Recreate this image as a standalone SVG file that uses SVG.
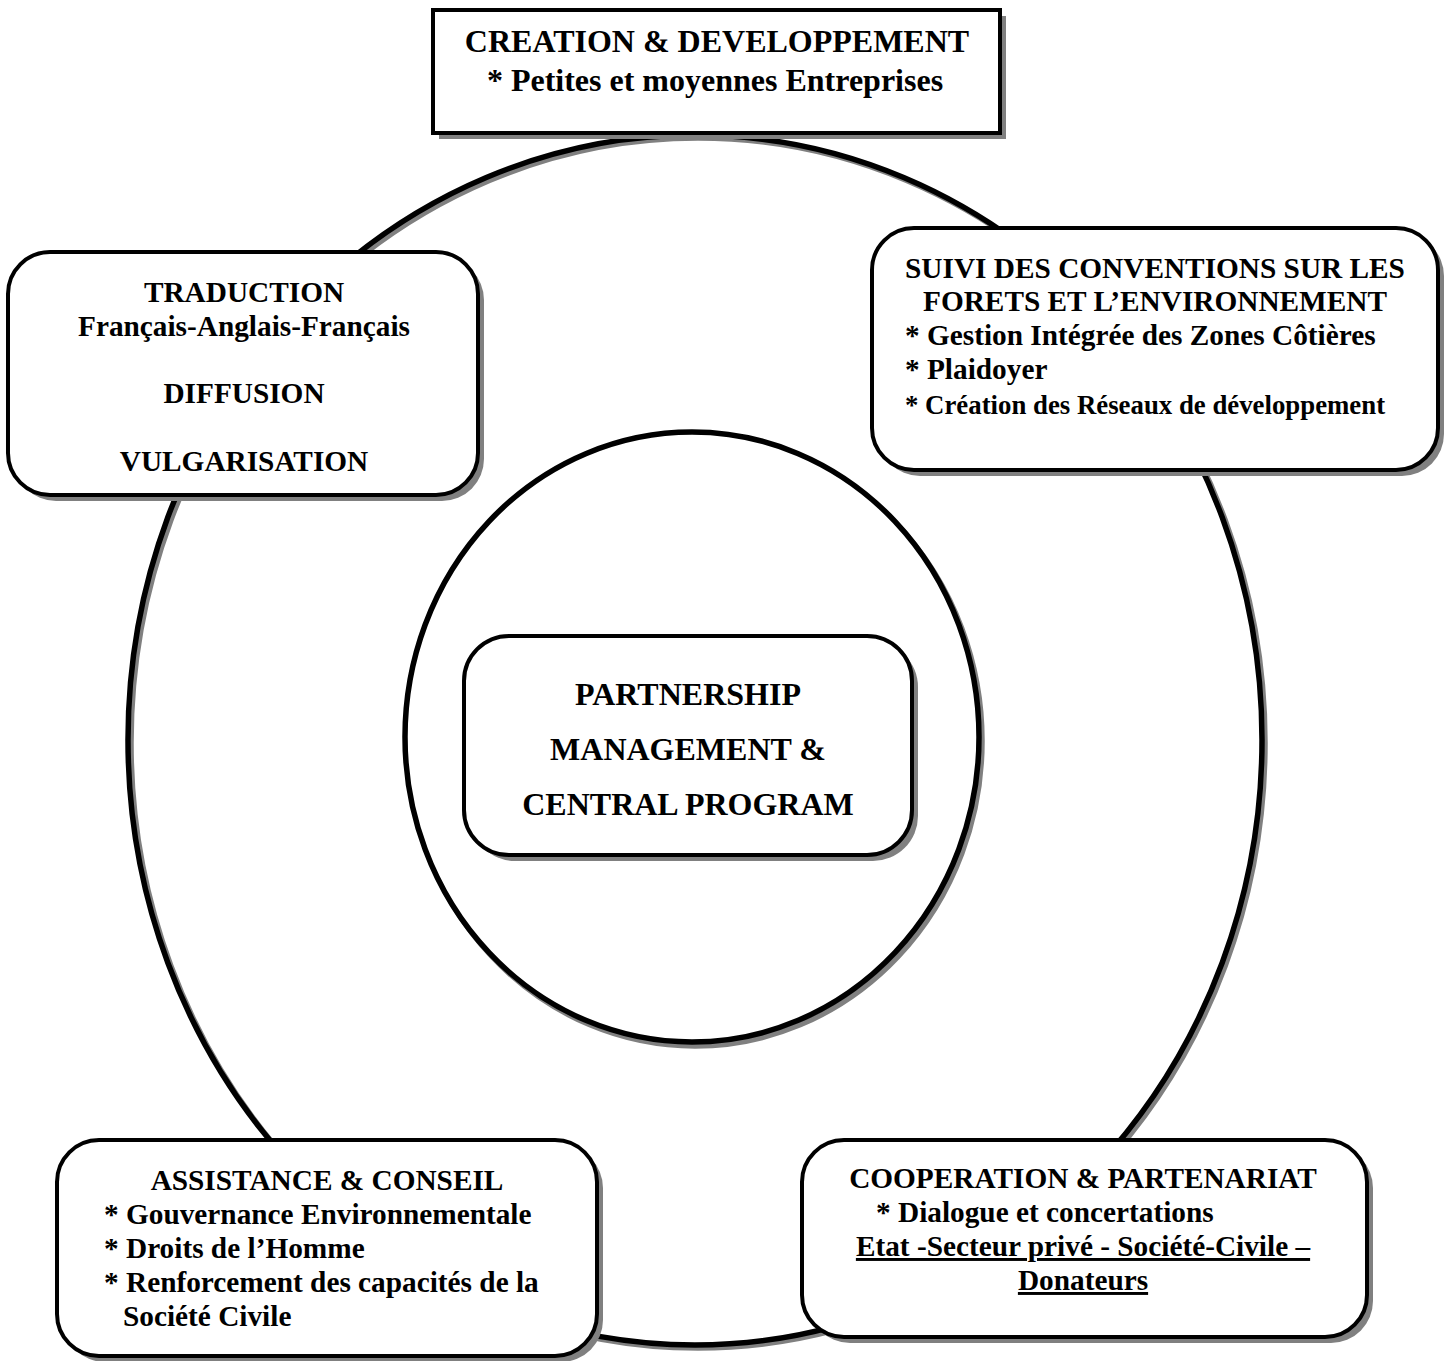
<svg xmlns="http://www.w3.org/2000/svg" width="1454" height="1361" viewBox="0 0 1454 1361">
<style>
.t{font-family:"Liberation Serif","Times New Roman",serif;font-weight:bold;fill:#000}
.s{font-size:29.3px}
.b{fill:#fff;stroke:#000;stroke-width:4}
.sh{fill:#808080;stroke:none}
.ring{fill:none;stroke:#000;stroke-width:5.5}
.ringsh{fill:none;stroke:#808080;stroke-width:5.5}
.m{text-anchor:middle}
</style>
<rect width="1454" height="1361" fill="#fff"/>
<g id="connectors">
<ellipse class="ringsh" cx="698" cy="743" rx="567" ry="605"/>
<ellipse class="ring" cx="695" cy="740" rx="567" ry="605"/>
</g>
<g id="inner-circle">
<ellipse class="ringsh" cx="695" cy="741" rx="287" ry="305"/>
<ellipse cx="692" cy="737" rx="287" ry="305" fill="#fff" stroke="#000" stroke-width="5.5"/>
</g>
<g id="node-center">
<rect class="sh" x="470" y="642" width="448" height="219" rx="45"/>
<rect class="b" x="464" y="636" width="448" height="219" rx="45"/>
<text class="t m" x="688" y="705" font-size="32">PARTNERSHIP</text>
<text class="t m" x="688" y="760" font-size="32">MANAGEMENT &amp;</text>
<text class="t m" x="688" y="815" font-size="32">CENTRAL PROGRAM</text>
</g>
<g id="node-creation">
<rect class="sh" x="439" y="16" width="567" height="123"/>
<rect class="b" x="433" y="10" width="567" height="123"/>
<text class="t m" x="717" y="52" font-size="32">CREATION &amp; DEVELOPPEMENT</text>
<text class="t m" x="715" y="91" font-size="32">* Petites et moyennes Entreprises</text>
</g>
<g id="node-traduction">
<rect class="sh" x="14" y="258" width="470" height="243" rx="42"/>
<rect class="b" x="8" y="252" width="470" height="243" rx="42"/>
<text class="t s m" x="244" y="302">TRADUCTION</text>
<text class="t s m" x="244" y="336">Français-Anglais-Français</text>
<text class="t s m" x="244" y="403">DIFFUSION</text>
<text class="t s m" x="244" y="471">VULGARISATION</text>
</g>
<g id="node-suivi">
<rect class="sh" x="878" y="234" width="566" height="242" rx="42"/>
<rect class="b" x="872" y="228" width="566" height="242" rx="42"/>
<text class="t s m" x="1155" y="278">SUIVI DES CONVENTIONS SUR LES</text>
<text class="t s m" x="1155" y="311">FORETS ET L’ENVIRONNEMENT</text>
<text class="t s" x="905" y="345">* Gestion Intégrée des Zones Côtières</text>
<text class="t s" x="905" y="379">* Plaidoyer</text>
<text class="t" x="905" y="414" font-size="26.8">* Création des Réseaux de développement</text>
</g>
<g id="node-assistance">
<rect class="sh" x="63" y="1146" width="540" height="216" rx="42"/>
<rect class="b" x="57" y="1140" width="540" height="216" rx="42"/>
<text class="t s m" x="327" y="1190">ASSISTANCE &amp; CONSEIL</text>
<text class="t s" x="104" y="1224">* Gouvernance Environnementale</text>
<text class="t s" x="104" y="1258">* Droits de l’Homme</text>
<text class="t s" x="104" y="1292">* Renforcement des capacités de la</text>
<text class="t s" x="123" y="1326">Société Civile</text>
</g>
<g id="node-cooperation">
<rect class="sh" x="808" y="1146" width="565" height="197" rx="42"/>
<rect class="b" x="802" y="1140" width="565" height="197" rx="42"/>
<text class="t s m" x="1083" y="1188">COOPERATION &amp; PARTENARIAT</text>
<text class="t s" x="876" y="1222">* Dialogue et concertations</text>
<text class="t s m" x="1083" y="1256" text-decoration="underline">Etat -Secteur privé - Société-Civile –</text>
<text class="t s m" x="1083" y="1290" text-decoration="underline">Donateurs</text>
</g>
</svg>
